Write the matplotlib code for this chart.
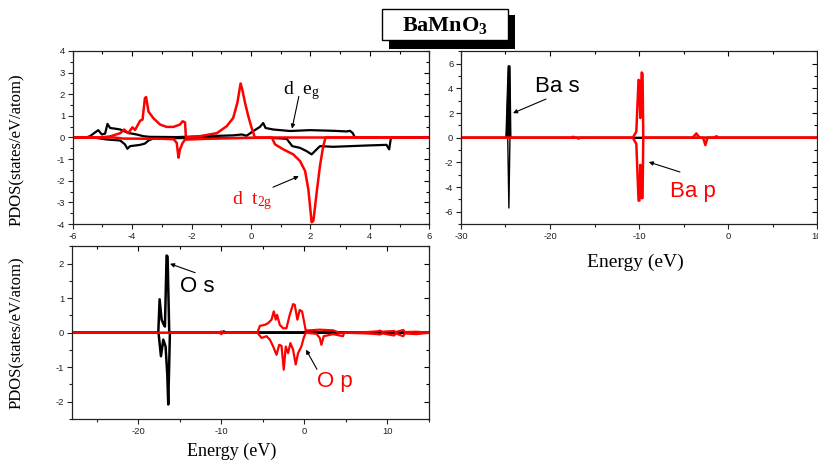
import matplotlib
matplotlib.use("Agg")
import matplotlib.pyplot as plt
from matplotlib.patches import Rectangle
from matplotlib.ticker import MultipleLocator

plt.rcParams['mathtext.fontset'] = 'custom'
plt.rcParams['mathtext.rm'] = 'Liberation Serif'
plt.rcParams['mathtext.it'] = 'Liberation Serif:italic'
plt.rcParams['mathtext.bf'] = 'Liberation Serif:bold'
plt.rcParams['axes.unicode_minus'] = False

# ---------------- data: Mn d (top-left) ----------------
eg_up_x = [-6, -5.55, -5.42, -5.14, -5.02, -4.91, -4.83, -4.74, -4.58, -4.4, -4.13, -3.85, -3.62, -3.4,
           -2.5, -1.5, -0.6, -0.31, -0.15, 0.08, 0.3, 0.41, 0.49, 0.75, 1.31, 1.98, 2.77, 3.22, 3.33, 3.42, 3.5, 6]
eg_up_y = [0, 0, 0.06, 0.34, 0.14, 0.18, 0.63, 0.44, 0.41, 0.37, 0.21, 0.14, 0.06, 0.03,
           0.02, 0.06, 0.10, 0.14, 0.08, 0.30, 0.49, 0.67, 0.44, 0.37, 0.30, 0.34, 0.31, 0.28, 0.31, 0.21, 0, 0]
eg_dn_x = [-6, -5.3, -4.86, -4.4, -4.24, -4.16, -4.07, -3.73, -3.57, -3.45, -3.29, -2.0, 0.7, 1.2, 1.39,
           1.65, 1.87, 2.04, 2.15, 2.32, 2.77, 3.33, 3.89, 4.56, 4.65, 4.7, 4.73, 6]
eg_dn_y = [0, 0, -0.09, -0.14, -0.32, -0.52, -0.40, -0.34, -0.28, -0.14, -0.05, -0.02, -0.02, -0.06, -0.40,
           -0.48, -0.63, -0.78, -0.63, -0.40, -0.43, -0.40, -0.37, -0.34, -0.55, -0.09, 0, 0]
t2g_up_x = [-6, -5.1, -4.74, -4.4, -4.27, -4.13, -3.99, -3.9, -3.73, -3.65, -3.57, -3.53, -3.45, -3.29,
            -3.06, -2.84, -2.61, -2.39, -2.3, -2.22, -2.19, -1.72, -1.15, -0.82, -0.6, -0.46, -0.35,
            -0.29, -0.2, -0.09, 0.02, 0.13, 6]
t2g_up_y = [0, 0, 0.05, 0.2, 0.37, 0.2, 0.47, 0.35, 0.78, 0.83, 1.82, 1.87, 1.2, 0.9,
            0.6, 0.49, 0.49, 0.6, 0.75, 0.7, 0, 0.06, 0.2, 0.52, 0.9, 1.6, 2.5,
            2.2, 1.6, 0.98, 0.45, 0, 0]
t2g_dn_x = [-6, -4.6, -4.3, -3.0, -2.6, -2.5, -2.44, -2.39, -2.3, -2.22, -1.5, -0.5, 0.2, 0.7, 0.81,
            1.09, 1.42, 1.65, 1.82, 1.93, 2.04, 2.1, 2.21, 2.32, 2.43, 2.51, 6]
t2g_dn_y = [0, 0, -0.05, -0.06, -0.08, -0.25, -0.93, -0.55, -0.25, -0.1, -0.06, -0.03, -0.01, 0, -0.32,
            -0.55, -0.78, -1.09, -1.55, -2.4, -3.92, -3.85, -2.54, -1.32, -0.4, 0, 0]

# ---------------- data: Ba (top-right) ----------------
bas_up_x = [-30, -24.9, -24.65, -24.55, -24.45, 10]
bas_up_y = [0, 0, 5.8, 5.8, 0, 0]
bas_dn_x = [-30, -24.75, -24.62, -24.5, 10]
bas_dn_y = [0, 0, -5.7, 0, 0]
bap_up_x = [-30, -17.6, -17.4, -17.2, -10.7, -10.3, -10.05, -9.95, -9.85, -9.7, -9.6, -9.52,
            -4.0, -3.55, -3.2, -1.6, -1.3, -1.0, 10]
bap_up_y = [0, 0, 0.08, 0, 0, 0.5, 4.7, 4.6, 1.6, 5.3, 5.2, 0,
            0, 0.35, 0, 0, 0.12, 0, 0]
bap_dn_x = [-30, -17.0, -16.8, -16.6, -10.7, -10.3, -10.05, -9.95, -9.85, -9.7, -9.6, -9.52,
            -2.8, -2.54, -2.3, 10]
bap_dn_y = [0, 0, -0.07, 0, 0, -0.5, -5.1, -5.1, -2.2, -4.9, -4.9, 0,
            0, -0.6, 0, 0]

# ---------------- data: O (bottom) ----------------
os_up_x = [-28, -17.58, -17.42, -17.18, -16.95, -16.78, -16.58, -16.46, -16.26, -9.9, -9.7, -9.5,
           -5.5, 3.3, 15]
os_up_y = [0, 0, 0.97, 0.38, 0.25, 0.18, 2.24, 2.21, 0, 0, 0.04, 0,
           0.01, 0.01, 0]
os_dn_x = [-28, -17.55, -17.26, -16.98, -16.7, -16.5, -16.38, -16.18, 15]
os_dn_y = [0, 0, -0.68, -0.2, -0.4, -1.2, -2.08, 0, 0]
op_up_x = [-28, -10.2, -10.0, -9.8, -5.66, -5.35, -4.75, -4.35, -3.95, -3.68, -3.44, -3.28, -2.96,
           -2.56, -2.16, -1.76, -1.36, -1.16, -0.84, -0.56, -0.28, -0.08, 0.16, 0.64, 1.85, 3.45,
           4.25, 7.5, 8.8, 9.1, 9.4, 10.8, 11.0, 11.9, 12.1, 13.5, 15]
op_up_y = [0, 0, 0.04, 0, 0, 0.2, 0.23, 0.28, 0.38, 0.62, 0.38, 0.52, 0.23,
           0.13, 0.13, 0.52, 0.83, 0.81, 0.38, 0.66, 0.62, 0.38, 0.07, 0.07, 0.09, 0.07,
           0, 0.02, 0.04, 0.06, 0.03, 0.05, 0.02, 0.08, 0.02, 0.03, 0]
op_dn_x = [-28, -10.2, -10.0, -9.8, -5.66, -5.15, -4.55, -4.15, -3.75, -3.35, -3.03, -2.75, -2.48,
           -2.24, -1.96, -1.68, -1.36, -1.04, -0.76, -0.36, -0.08, 0.16, 1.45, 1.85, 2.05, 2.33,
           3.45, 4.65, 4.8, 7.5, 8.8, 9.1, 9.4, 10.8, 11.0, 11.9, 12.1, 13.5, 15]
op_dn_y = [0, 0, -0.04, 0, 0, -0.15, -0.1, -0.2, -0.4, -0.64, -0.35, -0.38, -1.07,
           -0.4, -0.59, -0.3, -0.49, -0.92, -0.59, -0.4, -0.15, 0, -0.03, -0.15, -0.35, -0.1,
           -0.04, -0.1, 0, -0.02, -0.04, -0.05, -0.02, -0.08, -0.02, -0.1, -0.02, -0.04, 0]

W, H = 818, 461
fig = plt.figure(figsize=(W / 100, H / 100), dpi=100)


def px_axes(l, t, r, b):
    return fig.add_axes([l / W, 1 - b / H, (r - l) / W, (b - t) / H])


def style(ax, xlim, ylim, xmaj, xmin, ymaj, ymin):
    ax.set_xlim(*xlim)
    ax.set_ylim(*ylim)
    ax.xaxis.set_major_locator(MultipleLocator(xmaj))
    ax.xaxis.set_minor_locator(MultipleLocator(xmin))
    ax.yaxis.set_major_locator(MultipleLocator(ymaj))
    ax.yaxis.set_minor_locator(MultipleLocator(ymin))
    ax.tick_params(which='both', direction='out', top=False, right=False, labelsize=6.8,
                   width=0.8, colors='#222222', pad=2)
    ax.tick_params(which='major', length=3.5)
    ax.tick_params(which='minor', length=2)
    for lab in ax.get_xticklabels() + ax.get_yticklabels():
        lab.set_fontfamily('Liberation Sans')
    sec = ax.secondary_xaxis('top')
    sec.xaxis.set_major_locator(MultipleLocator(xmaj))
    sec.xaxis.set_minor_locator(MultipleLocator(xmin))
    sec.tick_params(which='both', direction='in', labeltop=False, width=0.8)
    sec.tick_params(which='major', length=3.5)
    sec.tick_params(which='minor', length=2)
    sec2 = ax.secondary_yaxis('right')
    sec2.yaxis.set_major_locator(MultipleLocator(ymaj))
    sec2.yaxis.set_minor_locator(MultipleLocator(ymin))
    sec2.tick_params(which='both', direction='in', labelright=False, width=0.8)
    sec2.tick_params(which='major', length=3.5)
    sec2.tick_params(which='minor', length=2)
    for s in ax.spines.values():
        s.set_linewidth(0.9)
        s.set_color('#222222')
    sec.spines['top'].set_visible(False)
    sec2.spines['right'].set_visible(False)


RED = '#ff0000'
BLK = '#000000'
arrow = dict(arrowstyle='-|>', color='black', lw=0.8, mutation_scale=6, shrinkA=0, shrinkB=0)

# ---- top-left ----
ax1 = px_axes(72.7, 51, 429.3, 224)
ax1.plot(eg_up_x, eg_up_y, color=BLK, lw=1.6)
ax1.plot(eg_dn_x, eg_dn_y, color=BLK, lw=1.6)
ax1.plot(t2g_up_x, t2g_up_y, color=RED, lw=1.8)
ax1.plot(t2g_dn_x, t2g_dn_y, color=RED, lw=1.8)
style(ax1, (-6, 6), (-4, 4), 2, 1, 1, 0.5)
ax1.text(1.08, 1.98, r'd  e$_\mathregular{g}$', fontsize=14, family='Liberation Serif', color='black')
ax1.annotate('', xy=(1.38, 0.41), xytext=(1.61, 1.9), arrowprops=arrow)
ax1.text(-0.64, -3.1, r'd  t$_\mathregular{2g}$', fontsize=14, family='Liberation Serif', color=RED)
ax1.annotate('', xy=(1.61, -1.79), xytext=(0.74, -2.3), arrowprops=arrow)
ax1.set_ylabel('PDOS(states/eV/atom)', family='Liberation Serif', fontsize=12)
ax1.yaxis.set_label_coords(-0.134, 0.43)

# ---- top-right ----
ax2 = px_axes(461, 51.5, 817, 224)
ax2.plot(bas_up_x, bas_up_y, color=BLK, lw=1.6)
ax2.fill(bas_up_x, bas_up_y, color=BLK)
ax2.plot(bas_dn_x, bas_dn_y, color=BLK, lw=1.0)
ax2.plot(bap_up_x, bap_up_y, color=RED, lw=1.8)
ax2.plot(bap_dn_x, bap_dn_y, color=RED, lw=1.8)
style(ax2, (-30, 10), (-7, 7), 10, 5, 2, 1)
ax2.text(-21.7, 3.7, 'Ba s', fontsize=16, family='Liberation Sans', color='black')
ax2.annotate('', xy=(-24.16, 2.0), xytext=(-20.45, 3.14), arrowprops=arrow)
ax2.text(-6.52, -4.8, 'Ba p', fontsize=16, family='Liberation Sans', color=RED)
ax2.annotate('', xy=(-8.9, -1.97), xytext=(-5.4, -2.78), arrowprops=arrow)
ax2.set_xlabel('Energy (eV)', family='Liberation Serif', fontsize=14)
ax2.xaxis.set_label_coords((635 - 461) / 356, -(254 - 224) / 172.5)

# ---- bottom-left ----
ax3 = px_axes(71.7, 246.5, 429, 419)
ax3.plot(os_up_x, os_up_y, color=BLK, lw=1.8)
ax3.plot(os_dn_x, os_dn_y, color=BLK, lw=1.8)
ax3.plot(op_up_x, op_up_y, color=RED, lw=1.6)
ax3.plot(op_dn_x, op_dn_y, color=RED, lw=1.6)
style(ax3, (-28, 15), (-2.5, 2.5), 10, 5, 1, 0.5)
ax3.text(-14.97, 1.19, 'O s', fontsize=16, family='Liberation Sans', color='black')
ax3.annotate('', xy=(-16.17, 2.0), xytext=(-13.14, 1.74), arrowprops=arrow)
ax3.text(1.52, -1.58, 'O p', fontsize=16, family='Liberation Sans', color=RED)
ax3.annotate('', xy=(0.2, -0.49), xytext=(1.52, -1.06), arrowprops=arrow)
ax3.set_xlabel('Energy (eV)', family='Liberation Serif', fontsize=13)
ax3.xaxis.set_label_coords((232 - 71.7) / 357.3, -(443 - 419) / 172.5)
ax3.set_ylabel('PDOS(states/eV/atom)', family='Liberation Serif', fontsize=12)
ax3.yaxis.set_label_coords(-0.131, 0.5)

# ---- title box with shadow ----
fig.patches.append(Rectangle((389 / W, 1 - 49 / H), 126 / W, 34 / H, transform=fig.transFigure,
                             facecolor='black', edgecolor='none', zorder=5))
fig.patches.append(Rectangle((382 / W, 1 - 40 / H), 126 / W, 31 / H, transform=fig.transFigure,
                             facecolor='white', edgecolor='black', lw=1.0, zorder=6))
fig.text(445 / W, 1 - 25 / H, r'BaMnO$_\mathbf{3}$', ha='center', va='center', fontsize=16,
         family='Liberation Serif', fontweight='bold', zorder=7)

fig.savefig('out.png', dpi=100)
